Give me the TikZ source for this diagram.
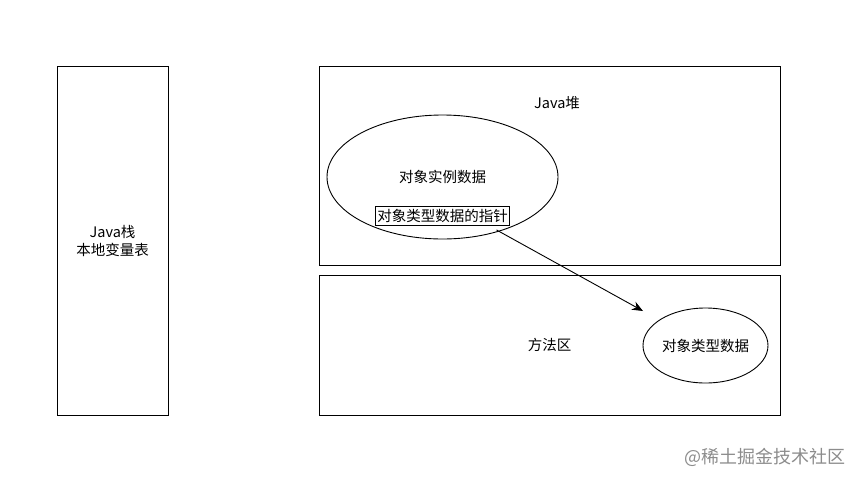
\documentclass[tikz,border=0pt]{standalone}
\usepackage{fontspec}
\setmainfont{Noto Sans CJK SC}
\usepackage{tikz}
\usetikzlibrary{arrows.meta,positioning,shapes}
\tikzstyle{area}=[rectangle,draw=black,line width=0.9pt,align=center]
\tikzstyle{blob}=[ellipse,draw=black,line width=0.9pt,inner sep=0pt]
\tikzstyle{ptrbox}=[rectangle,draw=black,line width=0.9pt,fill=white,inner sep=1.5pt,minimum height=19pt]

\begin{document}
\begin{tikzpicture}[x=1pt,y=-1pt,font=\fontsize{14.5}{18}\selectfont]
			\useasboundingbox (0,0) rectangle (860,483);

			\node[area, minimum width=111pt, minimum height=349pt] (stack) at (112.5,240.5) {Java栈\\本地变量表};
			\node[area, minimum width=461pt, minimum height=199pt] (heap) at (549.5,165.5) {};
			\node (heaplabel) at (557,103) {Java堆};
			\node[area, minimum width=461pt, minimum height=140pt] (method) at (549.5,345) {方法区};

			\node[blob, minimum width=231pt, minimum height=124pt] (inst) at (442.5,177) {对象实例数据};
			\node[ptrbox] (ptr) at (442.5,216) {对象类型数据的指针};
			\node[blob, minimum width=125pt, minimum height=75pt] (klass) at (705.5,345.5) {对象类型数据};

			\coordinate (tip) at (643,311);
			\draw[-{Stealth[length=11pt,width=9pt]}, line width=0.9pt] ([xshift=54pt,yshift=-4pt]ptr.south) -- (tip);

			\node[text=black!45, font=\fontsize{18}{20}\selectfont] (mark) at (765,457) {@稀土掘金技术社区};
		\end{tikzpicture}
\end{document}
